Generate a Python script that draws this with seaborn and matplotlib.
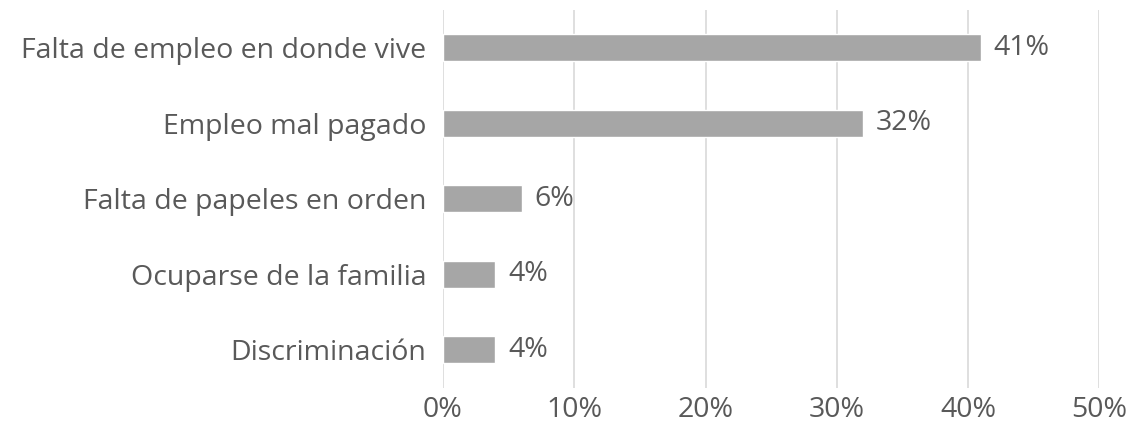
import matplotlib
matplotlib.use("Agg")
import matplotlib.pyplot as plt
import seaborn as sns
import pandas as pd

categories = [
    "Falta de empleo en donde vive",
    "Empleo mal pagado",
    "Falta de papeles en orden",
    "Ocuparse de la familia",
    "Discriminación",
]
values = [41, 32, 6, 4, 4]
xticks = [0, 10, 20, 30, 40, 50]

df = pd.DataFrame({"motivo": categories, "pct": values})

sns.set_theme(style="white")
plt.rcParams["font.family"] = ["Open Sans", "DejaVu Sans"]
text_color = "#595959"
fs = 20.5

fig = plt.figure(figsize=(11.3, 4.38), dpi=100)
ax = fig.add_axes([0.392, 0.115, 0.581, 0.862])

sns.barplot(data=df, x="pct", y="motivo", color="#a6a6a6", saturation=1,
            width=0.36, ax=ax, zorder=2)

ax.set_xlim(0, 50)
ax.set_ylim(4.5, -0.5)
ax.set_xticks(xticks)
ax.set_xticklabels([f"{t}%" for t in xticks], fontsize=fs, color=text_color)
ax.tick_params(axis="y", labelsize=fs, labelcolor=text_color, length=0, pad=12)
ax.tick_params(axis="x", length=0, pad=6)
ax.set_xlabel("")
ax.set_ylabel("")
ax.grid(axis="x", color="#d9d9d9", linewidth=1.2, zorder=0)
for s in ax.spines.values():
    s.set_visible(False)

for i, v in enumerate(values):
    ax.text(v + 0.95, i, f"{v}%", va="center", ha="left", fontsize=fs, color=text_color)

fig.savefig("out.png", dpi=100)
